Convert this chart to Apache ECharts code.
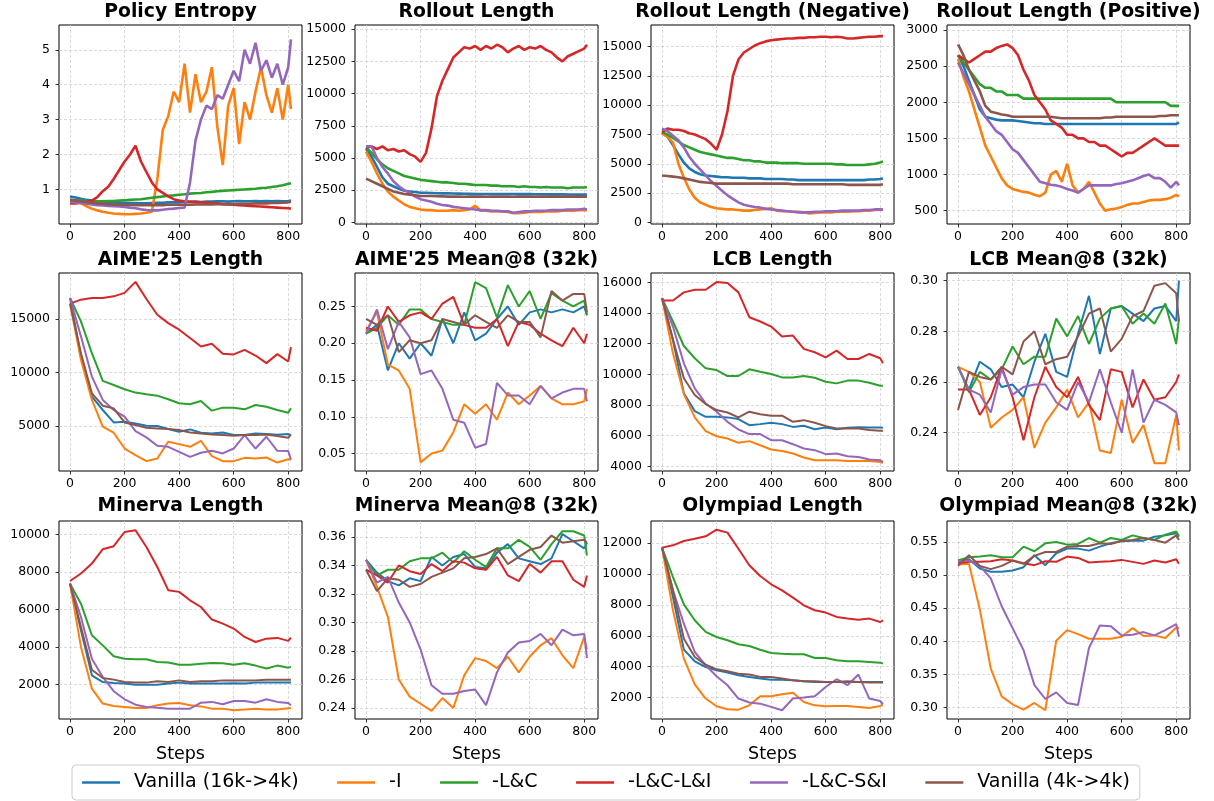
<!DOCTYPE html>
<html>
<head>
<meta charset="utf-8">
<script src="https://cdn.jsdelivr.net/npm/echarts@6/dist/echarts.min.js"></script>
<style>
html,body{margin:0;padding:0;background:#fff;}
#chart{width:1214px;height:801px;}
</style>
</head>
<body>
<div id="chart"></div>
<script>
// ---------- categories ----------
const seriesNames = ['Vanilla (16k->4k)', '-I', '-L&C', '-L&C-L&I', '-L&C-S&I', 'Vanilla (4k->4k)'];
const trainSteps = [0,20,40,60,80,100,120,140,160,180,200,220,240,260,280,300,320,340,360,380,400,420,440,460,480,500,520,540,560,580,600,620,640,660,680,700,720,740,760,780,800,810];
const evalSteps = [0,40,80,120,160,200,240,280,320,360,400,440,480,520,560,600,640,680,720,760,800,810];
const stepTicks = [0,200,400,600,800];

// ---------- Policy Entropy ----------
const entV16  = [0.80,0.77,0.73,0.70,0.68,0.66,0.65,0.64,0.63,0.62,0.62,0.61,0.61,0.60,0.60,0.61,0.62,0.62,0.63,0.63,0.63,0.64,0.64,0.65,0.64,0.65,0.65,0.66,0.66,0.65,0.66,0.67,0.66,0.66,0.67,0.66,0.67,0.66,0.67,0.66,0.67,0.68];
const entI    = [0.70,0.66,0.60,0.52,0.45,0.40,0.36,0.33,0.31,0.30,0.29,0.29,0.30,0.31,0.33,0.36,1.30,2.70,3.10,3.80,3.50,4.60,3.20,4.30,3.50,3.80,4.50,2.80,1.70,3.40,3.90,2.30,3.50,3.00,3.80,4.50,3.70,3.20,3.90,3.00,4.00,3.30];
const entLC   = [0.70,0.69,0.68,0.67,0.66,0.66,0.66,0.67,0.67,0.68,0.69,0.70,0.71,0.72,0.74,0.76,0.78,0.80,0.82,0.83,0.85,0.86,0.88,0.89,0.90,0.92,0.93,0.95,0.96,0.97,0.98,0.99,1.00,1.01,1.02,1.04,1.05,1.07,1.09,1.12,1.16,1.18];
const entLCLI = [0.60,0.60,0.62,0.64,0.68,0.78,0.95,1.08,1.30,1.55,1.80,2.00,2.25,1.80,1.50,1.20,1.00,0.90,0.80,0.72,0.68,0.66,0.65,0.64,0.63,0.62,0.61,0.60,0.58,0.57,0.56,0.55,0.54,0.53,0.52,0.51,0.50,0.49,0.48,0.47,0.46,0.45];
const entLCSI = [0.65,0.63,0.61,0.59,0.57,0.55,0.54,0.53,0.52,0.51,0.50,0.48,0.46,0.43,0.41,0.40,0.40,0.42,0.44,0.45,0.47,0.48,1.20,2.40,3.00,3.40,3.30,3.70,3.60,4.00,4.40,4.10,5.00,4.60,5.20,4.40,4.70,4.20,4.60,4.00,4.50,5.30];
const entV4   = [0.70,0.68,0.66,0.64,0.62,0.60,0.59,0.58,0.57,0.56,0.56,0.56,0.55,0.55,0.55,0.55,0.55,0.55,0.56,0.56,0.56,0.56,0.56,0.57,0.57,0.57,0.57,0.58,0.58,0.58,0.58,0.59,0.59,0.59,0.60,0.60,0.60,0.61,0.61,0.62,0.63,0.65];
const entTicks = [1,2,3,4,5];

// ---------- Rollout Length ----------
const rolV16  = [5700,5100,4300,3500,3000,2800,2600,2450,2400,2350,2300,2300,2280,2260,2250,2250,2240,2230,2220,2210,2200,2200,2200,2200,2200,2200,2200,2200,2190,2190,2200,2180,2180,2180,2170,2170,2170,2160,2160,2150,2150,2150];
const rolI    = [5500,4700,3800,3000,2400,2000,1700,1400,1200,1100,1000,950,950,900,900,900,950,900,950,1000,1300,900,900,850,850,850,800,700,700,750,800,800,800,850,850,850,900,900,900,950,950,950];
const rolLC   = [5800,5400,4900,4500,4200,4000,3800,3600,3500,3400,3300,3250,3200,3150,3100,3100,3050,3000,3000,2950,2900,2900,2900,2850,2850,2800,2800,2800,2750,2800,2750,2750,2700,2750,2700,2700,2700,2650,2700,2700,2700,2750];
const rolLCLI = [5800,5900,5700,5900,5600,5700,5500,5600,5300,5100,4700,5400,7300,9800,11000,11900,12800,13200,13600,13500,13700,13400,13700,13500,13800,13600,13200,13500,13700,13400,13600,13500,13700,13400,13200,12800,12500,12900,13100,13300,13500,13800];
const rolLCSI = [5900,5900,5000,4300,3800,3200,2800,2500,2300,2000,1800,1700,1600,1450,1350,1300,1200,1150,1100,1050,1000,950,950,900,900,850,850,750,800,850,850,900,900,900,950,950,950,1000,1000,1000,1050,1000];
const rolV4   = [3400,3200,3000,2800,2600,2400,2300,2200,2150,2100,2050,2050,2050,2030,2020,2000,2010,2000,1990,2000,2010,2000,1990,2000,2000,2010,2000,1990,2000,2000,2000,1990,2000,2010,2000,2000,1990,2000,2000,2000,2000,2000];
const rolTicks = [0,2500,5000,7500,10000,12500,15000];

// ---------- Rollout Length (Negative) ----------
const negV16  = [7700,7300,6600,5800,5100,4600,4300,4100,4000,3950,3900,3850,3850,3800,3800,3800,3750,3750,3750,3700,3700,3700,3700,3650,3650,3600,3600,3600,3600,3600,3600,3600,3600,3600,3600,3600,3600,3600,3650,3650,3700,3750];
const negI    = [7600,7300,6800,5000,3800,2800,2100,1700,1500,1300,1200,1150,1100,1100,1050,1000,1000,1050,1100,1150,1200,1000,950,950,900,900,850,750,800,850,850,850,900,900,900,950,950,1000,1000,1050,1100,1100];
const negLC   = [7700,7500,7200,6900,6600,6400,6200,6000,5900,5800,5700,5600,5500,5500,5400,5300,5300,5200,5200,5100,5100,5100,5050,5050,5050,5050,5000,5000,5000,5000,5000,5000,4950,4950,4900,4900,4900,4900,4950,5000,5100,5200];
const negLCLI = [7700,8000,7900,7900,7800,7600,7500,7300,7100,6700,6200,7500,9500,12500,13900,14500,14800,15100,15300,15450,15550,15600,15650,15700,15700,15750,15750,15800,15800,15850,15850,15800,15850,15800,15700,15700,15750,15800,15850,15850,15900,15900];
const negLCSI = [8000,7800,7400,7000,6400,5600,5000,4500,4000,3500,3100,2700,2300,2000,1700,1500,1400,1300,1250,1150,1100,1050,1000,950,900,850,850,850,900,900,950,950,950,1000,1000,1000,1000,1050,1050,1100,1100,1050];
const negV4   = [4000,3950,3900,3850,3750,3650,3550,3450,3400,3350,3300,3300,3300,3300,3300,3300,3300,3300,3300,3300,3300,3300,3300,3300,3250,3250,3250,3250,3250,3250,3250,3250,3250,3250,3200,3200,3200,3200,3200,3200,3200,3250];
const negTicks = [0,2500,5000,7500,10000,12500,15000];

// ---------- Rollout Length (Positive) ----------
const posV16  = [2650,2500,2300,2100,1900,1800,1780,1760,1750,1750,1750,1740,1730,1720,1710,1710,1700,1700,1700,1700,1700,1700,1700,1700,1700,1700,1700,1700,1700,1700,1700,1700,1700,1700,1700,1700,1700,1700,1700,1700,1700,1720];
const posI    = [2600,2350,2150,1900,1650,1400,1250,1100,950,850,800,780,760,750,720,700,750,1000,1050,900,1150,850,750,800,900,750,600,500,520,530,550,580,600,600,620,640,650,650,660,680,720,700];
const posLC   = [2650,2550,2450,2350,2250,2200,2200,2150,2150,2100,2100,2100,2050,2050,2050,2050,2050,2050,2050,2050,2050,2050,2050,2050,2050,2050,2050,2050,2050,2000,2000,2000,2000,2000,2000,2000,2000,2000,2000,1950,1950,1950];
const posLCLI = [2650,2600,2550,2600,2650,2700,2700,2750,2780,2800,2750,2650,2450,2300,2100,2000,1900,1750,1700,1650,1550,1550,1500,1500,1450,1450,1400,1400,1350,1300,1250,1300,1300,1350,1400,1450,1500,1450,1400,1400,1400,1400];
const posLCSI = [2550,2400,2250,2100,1950,1800,1700,1600,1550,1450,1350,1300,1200,1100,1000,900,880,860,850,830,800,780,750,800,850,850,850,850,850,870,880,900,920,950,980,1000,950,950,900,820,900,850];
const posV4   = [2800,2650,2450,2300,2150,1950,1870,1850,1830,1820,1800,1800,1800,1800,1800,1800,1800,1800,1790,1780,1780,1780,1780,1780,1780,1780,1780,1790,1790,1800,1800,1800,1800,1800,1800,1800,1800,1810,1810,1820,1820,1820];
const posTicks = [500,1000,1500,2000,2500,3000];

// ---------- AIME'25 Length ----------
const aimeLenV16  = [16970,11500,7750,6500,5340,5400,5250,5030,5000,4720,4470,4690,4375,4310,4400,4160,4160,4310,4250,4190,4250,4160];
const aimeLenI    = [16440,11190,7440,4940,4375,2900,2280,1720,1970,3530,3310,3060,3625,2190,1720,1720,2030,1970,2060,1590,1900,1875];
const aimeLenLC   = [16970,14780,11810,9220,8840,8440,8125,7970,7840,7500,7125,7030,7340,6440,6720,6720,6560,6970,6810,6500,6250,6660];
const aimeLenLCLI = [16440,16810,16970,16970,17120,17440,18470,16870,15400,14620,14000,13220,12440,12690,11750,11690,12120,11590,10880,11720,11030,12375];
const aimeLenLCSI = [16970,13380,9625,7440,6500,5875,4530,3940,3160,3060,2590,2125,2500,2690,2440,2900,4160,2900,4000,2690,2660,1875];
const aimeLenV4   = [16440,11800,8060,6900,6650,5340,5090,4840,4780,4720,4625,4400,4310,4220,4160,4090,4160,4160,4220,4060,3900,4220];
const aimeLenTicks = [5000,10000,15000];

// ---------- AIME'25 Mean@8 ----------
const aimeAccV16  = [0.213,0.225,0.163,0.200,0.179,0.200,0.183,0.233,0.200,0.242,0.204,0.213,0.233,0.250,0.225,0.242,0.246,0.242,0.246,0.242,0.250,0.238];
const aimeAccI    = [0.217,0.242,0.171,0.163,0.138,0.038,0.050,0.054,0.079,0.117,0.104,0.117,0.096,0.133,0.117,0.129,0.142,0.125,0.117,0.117,0.121,0.138];
const aimeAccLC   = [0.213,0.221,0.238,0.225,0.246,0.246,0.233,0.229,0.225,0.225,0.283,0.275,0.235,0.279,0.250,0.271,0.233,0.268,0.258,0.250,0.258,0.238];
const aimeAccLCLI = [0.221,0.217,0.250,0.229,0.238,0.242,0.233,0.254,0.263,0.225,0.221,0.221,0.233,0.196,0.229,0.225,0.213,0.204,0.196,0.221,0.200,0.213];
const aimeAccLCSI = [0.213,0.246,0.192,0.229,0.208,0.158,0.163,0.138,0.096,0.092,0.058,0.063,0.146,0.129,0.129,0.117,0.142,0.125,0.133,0.138,0.138,0.121];
const aimeAccV4   = [0.233,0.225,0.238,0.188,0.204,0.200,0.204,0.233,0.229,0.225,0.238,0.229,0.221,0.238,0.229,0.229,0.208,0.271,0.258,0.267,0.267,0.242];
const aimeAccTicks = [0.05,0.10,0.15,0.20,0.25];

// ---------- LCB Length ----------
const lcbLenV16  = [14975,12250,8760,7600,7230,7230,7190,7080,6680,6750,6840,6750,6570,6640,6420,6530,6420,6510,6550,6530,6530,6510];
const lcbLenI    = [14975,11370,8710,7190,6290,5960,5810,5530,5640,5370,5090,5000,4830,4570,4390,4390,4390,4350,4350,4350,4280,4220];
const lcbLenLC   = [14975,13450,11850,11050,10390,10280,9890,9890,10330,10170,10020,9800,9800,9890,9780,9520,9410,9590,9590,9450,9260,9260];
const lcbLenLCLI = [14820,14820,15350,15520,15520,16020,15960,15350,13730,13450,13120,12470,12530,11660,11440,11110,11550,11000,11000,11330,11050,10720];
const lcbLenLCSI = [14975,13120,10720,9080,8100,7560,6900,6400,6100,6100,5700,5700,5440,5160,5050,4790,4830,4650,4610,4440,4390,4280];
const lcbLenV4   = [14975,12250,9740,8650,8060,7670,7510,7190,7560,7400,7300,7300,6900,7010,6840,6620,6470,6470,6470,6360,6310,6310];
const lcbLenTicks = [4000,6000,8000,10000,12000,14000,16000];

// ---------- LCB Mean@8 ----------
const lcbAccV16  = [0.266,0.257,0.268,0.265,0.258,0.259,0.254,0.268,0.279,0.264,0.262,0.279,0.294,0.271,0.289,0.290,0.287,0.284,0.289,0.290,0.284,0.300];
const lcbAccI    = [0.266,0.264,0.260,0.242,0.246,0.249,0.254,0.234,0.244,0.250,0.257,0.246,0.252,0.233,0.232,0.253,0.236,0.243,0.228,0.228,0.247,0.233];
const lcbAccLC   = [0.266,0.256,0.264,0.261,0.265,0.274,0.267,0.270,0.270,0.285,0.278,0.286,0.275,0.285,0.289,0.290,0.283,0.287,0.283,0.291,0.275,0.285];
const lcbAccLCLI = [0.257,0.257,0.247,0.254,0.266,0.254,0.237,0.254,0.266,0.258,0.254,0.262,0.251,0.245,0.265,0.264,0.250,0.261,0.253,0.254,0.260,0.263];
const lcbAccLCSI = [0.266,0.257,0.255,0.248,0.265,0.255,0.258,0.259,0.259,0.252,0.249,0.260,0.252,0.265,0.252,0.240,0.265,0.244,0.253,0.251,0.248,0.243];
const lcbAccV4   = [0.249,0.264,0.262,0.261,0.266,0.263,0.276,0.280,0.267,0.269,0.270,0.278,0.287,0.289,0.272,0.277,0.286,0.288,0.298,0.299,0.295,0.284];
const lcbAccTicks = [0.24,0.26,0.28,0.30];

// ---------- Minerva Length ----------
const minLenV16  = [7380,4890,2480,2120,2070,2040,1980,1980,1980,2040,2090,2040,2040,2040,2040,2060,2040,2090,2090,2090,2090,2090];
const minLenI    = [7380,4000,1770,970,840,790,730,730,880,970,1000,880,820,700,700,610,650,700,650,660,720,720];
const minLenLC   = [7380,6310,4620,4080,3500,3370,3340,3340,3190,3160,3050,3050,3100,3140,3120,3050,3120,3000,2840,3000,2890,2930];
const minLenLCLI = [7520,7920,8450,9220,9380,10140,10230,9340,8270,7030,6940,6490,6130,5460,5240,4980,4530,4260,4440,4480,4320,4500];
const minLenLCSI = [7380,5600,3370,2390,1630,1200,910,790,750,700,700,700,1020,1060,930,1110,1110,1020,1200,1060,1000,880];
const minLenV4   = [7380,5060,2780,2340,2250,2120,2090,2090,2160,2120,2210,2120,2160,2160,2210,2210,2210,2210,2250,2250,2250,2250];
const minLenTicks = [2000,4000,6000,8000,10000];

// ---------- Minerva Mean@8 ----------
const minAccV16  = [0.344,0.335,0.329,0.326,0.331,0.329,0.346,0.340,0.346,0.348,0.339,0.338,0.349,0.355,0.345,0.343,0.341,0.345,0.362,0.357,0.352,0.356];
const minAccI    = [0.344,0.325,0.304,0.260,0.248,0.243,0.238,0.247,0.240,0.263,0.275,0.273,0.268,0.276,0.265,0.276,0.284,0.289,0.277,0.268,0.290,0.281];
const minAccLC   = [0.344,0.333,0.337,0.337,0.343,0.345,0.345,0.349,0.342,0.350,0.344,0.339,0.352,0.352,0.358,0.353,0.344,0.355,0.364,0.364,0.361,0.347];
const minAccLCLI = [0.337,0.333,0.328,0.340,0.336,0.334,0.341,0.336,0.343,0.342,0.338,0.337,0.346,0.333,0.329,0.341,0.335,0.343,0.343,0.330,0.325,0.333];
const minAccLCSI = [0.344,0.328,0.332,0.314,0.300,0.281,0.256,0.250,0.250,0.252,0.253,0.242,0.265,0.279,0.286,0.287,0.292,0.284,0.295,0.291,0.292,0.275];
const minAccV4   = [0.337,0.322,0.331,0.330,0.325,0.327,0.332,0.335,0.338,0.345,0.346,0.348,0.352,0.341,0.346,0.351,0.353,0.361,0.356,0.357,0.358,0.356];
const minAccTicks = [0.24,0.26,0.28,0.30,0.32,0.34,0.36];

// ---------- Olympiad Length ----------
const olyLenV16  = [11700,8500,5100,4350,3980,3770,3620,3440,3340,3230,3160,3160,3120,3060,3010,3010,3010,3010,3010,3010,3010,3010];
const olyLenI    = [11700,7650,4520,2860,1940,1440,1250,1220,1500,2090,2090,2220,2320,1720,1500,1440,1460,1460,1400,1330,1460,1550];
const olyLenLC   = [11700,9800,8030,7000,6250,5920,5710,5450,5340,5100,4890,4840,4800,4800,4560,4560,4410,4350,4350,4310,4260,4200];
const olyLenLCLI = [11700,11850,12130,12280,12430,12860,12670,11630,10560,9870,9330,8940,8470,7970,7650,7500,7220,7110,7040,7110,6890,7000];
const olyLenLCSI = [11700,8940,6780,4950,4090,3380,2800,1940,1680,1610,1400,1180,1940,2000,2090,2690,3190,2800,3490,1940,1780,1570];
const olyLenV4   = [11700,8940,5810,4630,4130,3830,3700,3550,3490,3340,3340,3230,3120,3060,3060,3010,3010,3060,3010,2970,2970,2970];
const olyLenTicks = [2000,4000,6000,8000,10000,12000];

// ---------- Olympiad Mean@8 ----------
const olyAccV16  = [0.522,0.524,0.510,0.505,0.505,0.507,0.512,0.530,0.515,0.533,0.540,0.540,0.537,0.543,0.548,0.551,0.552,0.552,0.558,0.560,0.563,0.560];
const olyAccI    = [0.516,0.517,0.448,0.359,0.317,0.305,0.297,0.307,0.296,0.401,0.417,0.411,0.404,0.404,0.404,0.407,0.420,0.408,0.409,0.405,0.421,0.420];
const olyAccLC   = [0.522,0.527,0.528,0.530,0.527,0.527,0.543,0.536,0.548,0.550,0.546,0.547,0.556,0.549,0.556,0.553,0.560,0.556,0.553,0.561,0.566,0.558];
const olyAccLCLI = [0.518,0.520,0.520,0.521,0.524,0.522,0.518,0.515,0.521,0.520,0.528,0.526,0.519,0.520,0.521,0.523,0.520,0.517,0.522,0.519,0.524,0.517];
const olyAccLCSI = [0.521,0.522,0.514,0.495,0.453,0.420,0.387,0.334,0.313,0.323,0.307,0.304,0.390,0.424,0.423,0.409,0.410,0.414,0.409,0.417,0.426,0.407];
const olyAccV4   = [0.514,0.530,0.514,0.509,0.514,0.522,0.517,0.529,0.535,0.535,0.543,0.544,0.544,0.548,0.547,0.552,0.553,0.556,0.553,0.549,0.560,0.553];
const olyAccTicks = [0.30,0.35,0.40,0.45,0.50,0.55];

// ---------- layout & style ----------
const colors = ['#1f77b4','#ff7f0e','#2ca02c','#d62728','#9467bd','#8c564b'];
const FONT = '"DejaVu Sans", "Liberation Sans", sans-serif';
const colLeft = [59, 355, 651, 947];
const plotW = 243;
const rowTop = [25, 273, 521];
const rowH = [199, 198, 198];
const titleY = [12, 260, 506];

const panels = [
  {title:'Policy Entropy', x:trainSteps, ys:[entV16,entI,entLC,entLCLI,entLCSI,entV4], ymin:0.01, ymax:5.71, ticks:entTicks, dec:0, lw:2.6},
  {title:'Rollout Length', x:trainSteps, ys:[rolV16,rolI,rolLC,rolLCLI,rolLCSI,rolV4], ymin:-130, ymax:15330, ticks:rolTicks, dec:0, lw:2.6},
  {title:'Rollout Length (Negative)', x:trainSteps, ys:[negV16,negI,negLC,negLCLI,negLCSI,negV4], ymin:-145, ymax:16850, ticks:negTicks, dec:0, lw:2.6},
  {title:'Rollout Length (Positive)', x:trainSteps, ys:[posV16,posI,posLC,posLCLI,posLCSI,posV4], ymin:316, ymax:3069, ticks:posTicks, dec:0, lw:2.6},
  {title:"AIME'25 Length", x:evalSteps, ys:[aimeLenV16,aimeLenI,aimeLenLC,aimeLenLCLI,aimeLenLCSI,aimeLenV4], ymin:800, ymax:19300, ticks:aimeLenTicks, dec:0, lw:2},
  {title:"AIME'25 Mean@8 (32k)", x:evalSteps, ys:[aimeAccV16,aimeAccI,aimeAccLC,aimeAccLCLI,aimeAccLCSI,aimeAccV4], ymin:0.0263, ymax:0.2955, ticks:aimeAccTicks, dec:2, lw:2},
  {title:'LCB Length', x:evalSteps, ys:[lcbLenV16,lcbLenI,lcbLenLC,lcbLenLCLI,lcbLenLCSI,lcbLenV4], ymin:3690, ymax:16615, ticks:lcbLenTicks, dec:0, lw:2},
  {title:'LCB Mean@8 (32k)', x:evalSteps, ys:[lcbAccV16,lcbAccI,lcbAccLC,lcbAccLCLI,lcbAccLCSI,lcbAccV4], ymin:0.2249, ymax:0.3030, ticks:lcbAccTicks, dec:2, lw:2},
  {title:'Minerva Length', x:evalSteps, ys:[minLenV16,minLenI,minLenLC,minLenLCLI,minLenLCSI,minLenV4], ymin:146, ymax:10727, ticks:minLenTicks, dec:0, lw:2},
  {title:'Minerva Mean@8 (32k)', x:evalSteps, ys:[minAccV16,minAccI,minAccLC,minAccLCLI,minAccLCSI,minAccV4], ymin:0.2323, ymax:0.3712, ticks:minAccTicks, dec:2, lw:2},
  {title:'Olympiad Length', x:evalSteps, ys:[olyLenV16,olyLenI,olyLenLC,olyLenLCLI,olyLenLCSI,olyLenV4], ymin:617, ymax:13422, ticks:olyLenTicks, dec:0, lw:2},
  {title:'Olympiad Mean@8 (32k)', x:evalSteps, ys:[olyAccV16,olyAccI,olyAccLC,olyAccLCLI,olyAccLCSI,olyAccV4], ymin:0.2828, ymax:0.5817, ticks:olyAccTicks, dec:2, lw:2}
];

const grid = [], xAxis = [], yAxis = [], series = [], graphic = [];
const splitStyle = {show:true, lineStyle:{color:'#d0d0d0', width:0.8, type:[3,2]}};

panels.forEach((p, i) => {
  const r = Math.floor(i / 4), c = i % 4;
  grid.push({left: colLeft[c], top: rowTop[r], width: plotW, height: rowH[r],
             show: true, borderColor: '#000', borderWidth: 1, backgroundColor: 'transparent'});
  xAxis.push({
    type: 'value', gridIndex: i, min: -40.5, max: 850.5, position: 'bottom',
    name: r === 2 ? 'Steps' : '', nameLocation: 'middle', nameGap: 26,
    nameTextStyle: {fontFamily: FONT, fontSize: 17.5, color: '#000'},
    axisLine: {show: false, onZero: false},
    axisTick: {show: true, length: 3.5, customValues: stepTicks, lineStyle: {color: '#000', width: 0.8}},
    axisLabel: {show: true, customValues: stepTicks, margin: 6, fontFamily: FONT, fontSize: 12.5, color: '#000'},
    splitLine: splitStyle
  });
  yAxis.push({
    type: 'value', gridIndex: i, min: p.ymin, max: p.ymax, position: 'left',
    axisLine: {show: false, onZero: false},
    axisTick: {show: true, length: 3.5, customValues: p.ticks, lineStyle: {color: '#000', width: 0.8}},
    axisLabel: {show: true, customValues: p.ticks, margin: 9, fontFamily: FONT, fontSize: 12.5, color: '#000',
                formatter: v => p.dec ? Number(v).toFixed(p.dec) : String(Math.round(v))},
    splitLine: splitStyle
  });
  p.ys.forEach((ys, k) => {
    series.push({
      type: 'line', name: seriesNames[k], xAxisIndex: i, yAxisIndex: i,
      data: p.x.map((s, j) => [s, ys[j]]),
      symbol: 'none', showSymbol: false, smooth: false,
      lineStyle: {color: colors[k], width: p.lw},
      itemStyle: {color: colors[k]},
      emphasis: {disabled: true},
      clip: true
    });
  });
  graphic.push({
    type: 'text', x: colLeft[c] + plotW / 2, y: titleY[r],
    style: {text: p.title, x: 0, y: 0, align: 'center', verticalAlign: 'middle',
            font: 'bold 18.8px ' + FONT, fill: '#000'}
  });
});

const chart = echarts.init(document.getElementById('chart'), null, {renderer: 'canvas'});
chart.setOption({
  animation: false,
  backgroundColor: '#fff',
  grid, xAxis, yAxis, series, graphic,
  legend: {
    data: seriesNames.map((n, k) => ({name: n, icon: 'rect', itemStyle: {color: colors[k]}})),
    left: 72, top: 765, orient: 'horizontal',
    itemWidth: 38, itemHeight: 2.5, itemGap: 38.5,
    padding: [8, 10, 8, 10],
    borderColor: '#cccccc', borderWidth: 1, borderRadius: 4,
    backgroundColor: '#fff',
    textStyle: {fontFamily: FONT, fontSize: 19, color: '#000', padding: [0, 0, 0, 9]},
    selectedMode: false
  }
});
</script>
</body>
</html>
